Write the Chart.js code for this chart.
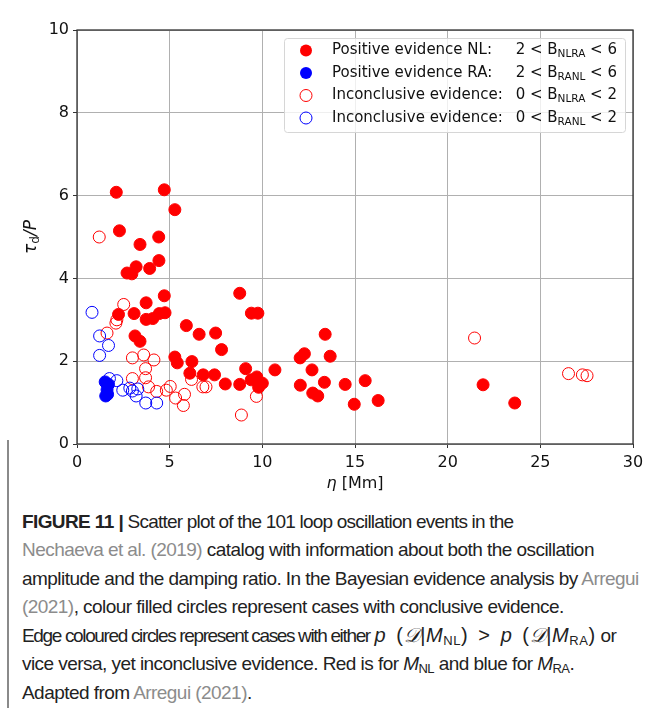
<!DOCTYPE html>
<html>
<head>
<meta charset="utf-8">
<script src="https://cdn.jsdelivr.net/npm/chart.js@4"></script>
<style>
  html, body { margin: 0; padding: 0; background: #fff; }
  body { width: 653px; height: 708px; position: relative; overflow: hidden; }
  #wrap { position: absolute; left: 0; top: 0; width: 653px; height: 500px; }
  #bar { position: absolute; left: 7px; top: 440px; width: 1.5px; height: 268px; background: #8a8a8a; }
  #caption {
    position: absolute; left: 22px; top: 508px;
    font-family: "Liberation Sans", Arial, sans-serif; font-size: 19px; line-height: 28.3px;
    color: #222; white-space: nowrap; letter-spacing: -0.55px;
  }
  #caption b { font-weight: bold; letter-spacing: -0.6px; }
  #caption .ref { color: #8c8c8c; }
  #caption i { font-style: italic; }
  #caption sub { font-size: 13px; vertical-align: -3px; line-height: 0; }
  #caption .l1 { letter-spacing: -0.8px; }
  #caption .l5 { letter-spacing: -1.35px; }
  #caption .m { letter-spacing: 0.6px; font-size: 20px; }
  #caption .sp { display: inline-block; width: 10px; }
</style>
</head>
<body>
<div id="wrap"><canvas id="chart" width="653" height="500"></canvas></div>
<div id="bar"></div>
<div id="caption">
<b>FIGURE 11 |</b><span class="l1"> Scatter plot of the 101 loop oscillation events in the</span><br>
<span class="ref">Nechaeva et al. (2019)</span> catalog with information about both the oscillation<br>
amplitude and the damping ratio. In the Bayesian evidence analysis by <span class="ref">Arregui</span><br>
<span class="ref">(2021)</span>, colour filled circles represent cases with conclusive evidence.<br>
<span class="l5">Edge coloured circles represent cases with either</span> <span class="m"><i>p</i><span class="sp"></span>(<i>&#x1D49F;</i>|<i>M</i><sub>NL</sub>)<span class="sp"></span>&gt;<span class="sp"></span><i>p</i><span class="sp"></span>(<i>&#x1D49F;</i>|<i>M</i><sub>RA</sub>)</span> or<br>
vice versa, yet inconclusive evidence. Red is for <i>M</i><sub>NL</sub> and blue for <i>M</i><sub>RA</sub>.<br>
Adapted from <span class="ref">Arregui (2021)</span>.
</div>
<script>
// eta [Mm] and tau_d/P for each group of events
const nlPosX = [2.12, 4.71, 5.28, 2.29, 3.40, 4.41, 4.42, 3.19, 3.92, 2.70, 2.96, 4.71, 3.73, 2.24, 3.08, 3.73, 4.09, 4.44, 4.75,
  3.13, 3.40, 5.90, 6.59, 7.48, 7.80, 8.78, 9.41, 9.76, 5.28, 5.41, 6.20, 6.09, 6.81, 7.42, 8.00, 8.78, 9.10, 9.40, 9.70,
  10.00, 9.80, 10.68, 12.04, 12.27, 12.68, 12.05, 12.72, 12.99, 13.39, 13.66, 13.35, 14.47, 15.55, 14.96, 16.25, 21.91, 23.62]
const nlPosY = [6.08, 6.14, 5.66, 5.15, 4.82, 5.00, 4.43, 4.28, 4.24, 4.13, 4.11, 3.58, 3.41, 3.13, 3.15, 3.01, 3.03, 3.15, 3.17,
  2.61, 2.48, 2.86, 2.65, 2.68, 2.28, 3.64, 3.16, 3.16, 2.10, 1.96, 1.99, 1.71, 1.67, 1.67, 1.45, 1.44, 1.82, 1.55, 1.62,
  1.47, 1.37, 1.79, 2.08, 2.18, 1.79, 1.42, 1.23, 1.16, 2.65, 2.12, 1.49, 1.44, 1.53, 0.96, 1.05, 1.43, 0.99]

const raPosX = [1.52, 1.70, 1.62, 1.55, 1.65]
const raPosY = [1.50, 1.44, 1.31, 1.16, 1.20]

const nlIncX = [1.20, 2.52, 2.15, 2.10, 1.62, 2.99, 3.60, 4.15, 3.70, 3.70, 2.99, 3.86, 4.30, 4.82, 5.03, 5.32, 5.80, 5.74,
  6.18, 6.79, 6.96, 9.68, 8.87, 21.45, 26.52, 27.27, 27.52]
const nlIncY = [5.00, 3.37, 3.00, 2.92, 2.68, 2.08, 2.15, 2.03, 1.82, 1.60, 1.58, 1.38, 1.27, 1.30, 1.39, 1.11, 1.20, 0.93,
  1.56, 1.38, 1.38, 1.15, 0.70, 2.56, 1.70, 1.67, 1.65]

const raIncX = [0.81, 1.22, 1.70, 1.22, 1.75, 2.15, 2.47, 2.99, 3.28, 3.19, 3.71, 4.30, 2.85]
const raIncY = [3.18, 2.61, 2.38, 2.14, 1.58, 1.53, 1.30, 1.28, 1.33, 1.16, 0.99, 0.99, 1.35]

const xTicks = [0, 5, 10, 15, 20, 25, 30]
const yTicks = [0, 2, 4, 6, 8, 10]

// legend rows: label, lower bound, subscript, upper bound
const legendNames = ["Positive evidence NL:", "Positive evidence RA:", "Inconclusive evidence:", "Inconclusive evidence:"]
const legendLow = ["2", "2", "0", "0"]
const legendSub = ["NLRA", "RANL", "NLRA", "RANL"]
const legendHigh = ["6", "6", "2", "2"]

const RED = "#ff0000"
const BLUE = "#0000ff"
const FONT = "'DejaVu Sans', sans-serif"

const pts = (xs, ys) => xs.map((x, i) => ({x: x, y: ys[i]}))

const series = [
	{data: pts(nlPosX, nlPosY), color: RED, filled: true},
	{data: pts(raPosX, raPosY), color: BLUE, filled: true},
	{data: pts(nlIncX, nlIncY), color: RED, filled: false},
	{data: pts(raIncX, raIncY), color: BLUE, filled: false}
]

const frameAndLegend = {
	id: "frameAndLegend",
	afterDraw(chart) {
		const ctx = chart.ctx
		const a = chart.chartArea
		ctx.save()
		// spines
		ctx.strokeStyle = "#333"
		ctx.lineWidth = 1.3
		ctx.strokeRect(a.left, a.top, a.right - a.left, a.bottom - a.top)

		// axis titles
		ctx.fillStyle = "#111"
		ctx.textBaseline = "middle"
		ctx.textAlign = "left"
		const eta = "η"
		const rest = " [Mm]"
		ctx.font = "italic 16px " + FONT
		const w1 = ctx.measureText(eta).width
		ctx.font = "16px " + FONT
		const w2 = ctx.measureText(rest).width
		let x0 = (a.left + a.right) / 2 - (w1 + w2) / 2
		ctx.font = "italic 16px " + FONT
		ctx.fillText(eta, x0, 484)
		ctx.font = "16px " + FONT
		ctx.fillText(rest, x0 + w1, 484)

		ctx.translate(32, (a.top + a.bottom) / 2)
		ctx.rotate(-Math.PI / 2)
		ctx.font = "italic 17px " + FONT
		const tw = ctx.measureText("τ").width
		ctx.font = "12px " + FONT
		const dw = ctx.measureText("d").width
		ctx.font = "italic 17px " + FONT
		const pw = ctx.measureText("/P").width
		let tx = -(tw + dw + pw) / 2
		ctx.fillText("τ", tx, 0)
		ctx.font = "12px " + FONT
		ctx.fillText("d", tx + tw, 4)
		ctx.font = "italic 17px " + FONT
		ctx.fillText("/P", tx + tw + dw, 0)
		ctx.restore()

		// legend box
		ctx.save()
		const lx = 284, ly = 38, lw = 341, lh = 94
		ctx.fillStyle = "rgba(255,255,255,0.8)"
		ctx.strokeStyle = "#d6d6d6"
		ctx.lineWidth = 1
		ctx.beginPath()
		ctx.roundRect(lx + 0.5, ly + 0.5, lw, lh, 3)
		ctx.fill()
		ctx.stroke()
		ctx.textBaseline = "middle"
		series.forEach((s, i) => {
			const y = 50.5 + i * 22.5
			ctx.beginPath()
			ctx.arc(306, y, 6, 0, Math.PI * 2)
			if (s.filled) {
				ctx.fillStyle = s.color
				ctx.fill()
			} else {
				ctx.strokeStyle = s.color
				ctx.lineWidth = 1
				ctx.stroke()
			}
			ctx.fillStyle = "#111"
			ctx.font = "15px " + FONT
			ctx.textAlign = "left"
			ctx.fillText(legendNames[i], 332, y)
			// right column, right aligned at x=617
			const a1 = legendLow[i] + " < B"
			const a3 = " < " + legendHigh[i]
			ctx.font = "15px " + FONT
			const wa1 = ctx.measureText(a1).width
			const wa3 = ctx.measureText(a3).width
			ctx.font = "10.5px " + FONT
			const wsub = ctx.measureText(legendSub[i]).width
			let cx = 617 - (wa1 + wsub + wa3)
			ctx.font = "15px " + FONT
			ctx.fillText(a1, cx, y)
			ctx.font = "10.5px " + FONT
			ctx.fillText(legendSub[i], cx + wa1, y + 4)
			ctx.font = "15px " + FONT
			ctx.fillText(a3, cx + wa1 + wsub, y)
		})
		ctx.restore()
	}
}

new Chart(document.getElementById("chart"), {
	type: "scatter",
	data: {
		datasets: series.map((s, i) => ({
			label: legendNames[i],
			data: s.data,
			pointRadius: 6,
			pointHoverRadius: 6,
			pointBorderWidth: 1,
			backgroundColor: s.filled ? s.color : "rgba(0,0,0,0)",
			borderColor: s.color,
			order: 4 - i
		}))
	},
	options: {
		responsive: false,
		animation: false,
		events: [],
		layout: {padding: {left: 0, top: 30, right: 20, bottom: 0}},
		plugins: {legend: {display: false}, tooltip: {enabled: false}},
		scales: {
			x: {
				type: "linear",
				min: 0,
				max: 30,
				afterFit: (s) => { s.height = 56 },
				afterBuildTicks: (s) => { s.ticks = xTicks.map(v => ({value: v})) },
				grid: {color: "#b0b0b0", lineWidth: 1, tickLength: 4, tickColor: "#333"},
				border: {display: false},
				ticks: {color: "#111", font: {family: "DejaVu Sans", size: 16}, padding: 5}
			},
			y: {
				type: "linear",
				min: 0,
				max: 10,
				afterFit: (s) => { s.width = 77 },
				afterBuildTicks: (s) => { s.ticks = yTicks.map(v => ({value: v})) },
				grid: {color: "#b0b0b0", lineWidth: 1, tickLength: 4, tickColor: "#333"},
				border: {display: false},
				ticks: {color: "#111", font: {family: "DejaVu Sans", size: 16}, padding: 4}
			}
		}
	},
	plugins: [frameAndLegend]
})
</script>
</body>
</html>
